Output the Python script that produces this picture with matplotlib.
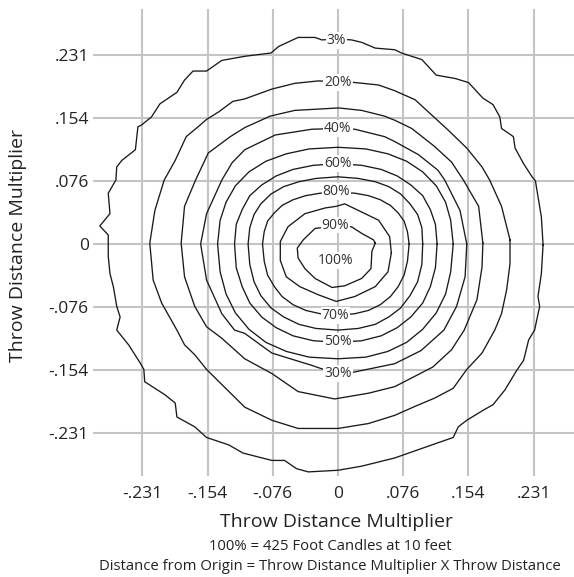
import numpy as np
import matplotlib.pyplot as plt

plt.rcParams['font.family'] = ['Open Sans', 'DejaVu Sans']

# grid ticks sit at multiples of 1/13 of the throw distance
tick_values = np.array([-3, -2, -1, 0, 1, 2, 3]) / 13
tick_labels = ['-.231', '-.154', '-.076', '0', '.076', '.154', '.231']

# iso-illuminance rings, outermost (3%) to innermost
ring1_x = [0.242, 0.240, 0.236, 0.233, 0.229, 0.219, 0.209, 0.207, 0.193, 0.191, 0.183, 0.171, 0.154, 0.138,
           0.116, 0.099, 0.075, 0.067, 0.044, 0.028, 0.016, 0.000, -0.019, -0.027, -0.047, -0.070, -0.079,
           -0.110, -0.137, -0.155, -0.171, -0.181, -0.190, -0.210, -0.220, -0.232, -0.236, -0.239, -0.255,
           -0.261, -0.262, -0.271, -0.269, -0.281, -0.271, -0.271, -0.269, -0.265, -0.261, -0.257, -0.261,
           -0.247, -0.234, -0.229, -0.228, -0.204, -0.192, -0.190, -0.169, -0.155, -0.129, -0.112, -0.078,
           -0.063, -0.049, -0.035, 0.000, 0.028, 0.067, 0.111, 0.136, 0.142, 0.152, 0.171, 0.183, 0.197,
           0.211, 0.219, 0.225, 0.232, 0.238, 0.236, 0.240]
ring1_y = [-0.001, 0.033, 0.058, 0.077, 0.082, 0.098, 0.117, 0.131, 0.141, 0.155, 0.170, 0.178, 0.197, 0.202,
           0.206, 0.225, 0.233, 0.237, 0.239, 0.246, 0.249, 0.250, 0.249, 0.252, 0.252, 0.241, 0.233,
           0.229, 0.224, 0.211, 0.211, 0.200, 0.185, 0.171, 0.155, 0.145, 0.143, 0.115, 0.102,
           0.094, 0.078, 0.062, 0.037, 0.022, 0.011, -0.015, -0.036, -0.052, -0.076, -0.089, -0.105,
           -0.123, -0.144, -0.153, -0.168, -0.184, -0.194, -0.211, -0.223, -0.236, -0.245, -0.255, -0.264,
           -0.264, -0.274, -0.278, -0.276, -0.271, -0.261, -0.245, -0.236, -0.223, -0.215, -0.203, -0.196,
           -0.178, -0.154, -0.142, -0.117, -0.105, -0.076, -0.064, -0.036]

ring2_x = [0.203, 0.193, 0.179, 0.170, 0.152, 0.130, 0.111, 0.091, 0.067, 0.048, 0.020, 0.000, -0.023, -0.051,
           -0.078, -0.110, -0.124, -0.141, -0.155, -0.165, -0.179, -0.192, -0.205, -0.216, -0.222, -0.218,
           -0.208, -0.190, -0.181, -0.169, -0.155, -0.110, -0.078, -0.047, 0.000, 0.036, 0.067, 0.091,
           0.114, 0.136, 0.152, 0.170, 0.185, 0.193, 0.199, 0.203]
ring2_y = [0.005, 0.046, 0.078, 0.094, 0.117, 0.139, 0.157, 0.176, 0.187, 0.194, 0.197, 0.198, 0.199, 0.196,
           0.189, 0.177, 0.174, 0.161, 0.152, 0.143, 0.131, 0.102, 0.078, 0.041, 0.001, -0.044,
           -0.072, -0.105, -0.123, -0.135, -0.153, -0.199, -0.215, -0.225, -0.225, -0.219, -0.209, -0.198,
           -0.188, -0.176, -0.153, -0.133, -0.105, -0.085, -0.056, -0.024]

ring3_x = [0.171, 0.166, 0.148, 0.134, 0.114, 0.087, 0.067, 0.055, 0.028, 0.001, -0.051, -0.080, -0.110,
           -0.127, -0.153, -0.168, -0.181, -0.185, -0.181, -0.169, -0.155, -0.137, -0.110, -0.078, -0.047,
           -0.004, 0.036, 0.067, 0.112, 0.134, 0.149, 0.164, 0.170]
ring3_y = [0.001, 0.046, 0.078, 0.100, 0.119, 0.141, 0.151, 0.156, 0.163, 0.166, 0.163, 0.156, 0.142,
           0.131, 0.111, 0.078, 0.046, 0.001, -0.040, -0.076, -0.101, -0.115, -0.140, -0.158, -0.180,
           -0.189, -0.182, -0.174, -0.150, -0.129, -0.105, -0.068, -0.028]

ring4_x = [0.152, 0.144, 0.126, 0.118, 0.095, 0.067, 0.055, 0.020, 0.000, -0.031, -0.074, -0.110, -0.125,
           -0.137, -0.155, -0.162, -0.155, -0.137, -0.122, -0.110, -0.078, -0.031, 0.000, 0.020, 0.067,
           0.098, 0.125, 0.140, 0.150]
ring4_y = [0.000, 0.041, 0.078, 0.090, 0.109, 0.125, 0.131, 0.140, 0.141, 0.140, 0.133, 0.115, 0.099,
           0.078, 0.037, 0.000, -0.044, -0.085, -0.105, -0.109, -0.133, -0.148, -0.159, -0.156, -0.146,
           -0.130, -0.105, -0.076, -0.040]

ring5_x = [0.136, 0.133, 0.127, 0.116, 0.100, 0.081, 0.059, 0.033, 0.000, -0.034, -0.061, -0.085, -0.105,
           -0.121, -0.132, -0.139, -0.142, -0.139, -0.132, -0.121, -0.105, -0.085, -0.061, -0.034, 0.000,
           0.033, 0.059, 0.081, 0.100, 0.116, 0.127, 0.133]
ring5_y = [0.000, 0.029, 0.051, 0.071, 0.088, 0.101, 0.110, 0.116, 0.118, 0.116, 0.110, 0.101, 0.088,
           0.071, 0.051, 0.029, 0.000, -0.034, -0.061, -0.084, -0.104, -0.120, -0.131, -0.138, -0.140,
           -0.138, -0.131, -0.120, -0.104, -0.084, -0.061, -0.034]

ring6_x = [0.117, 0.115, 0.109, 0.100, 0.086, 0.070, 0.051, 0.028, 0.000, -0.029, -0.053, -0.073, -0.090,
           -0.104, -0.113, -0.120, -0.122, -0.120, -0.113, -0.104, -0.090, -0.073, -0.053, -0.029, 0.000,
           0.028, 0.051, 0.070, 0.086, 0.100, 0.109, 0.115]
ring6_y = [0.000, 0.024, 0.042, 0.059, 0.072, 0.083, 0.091, 0.096, 0.098, 0.096, 0.091, 0.083, 0.072,
           0.059, 0.042, 0.024, 0.000, -0.029, -0.052, -0.072, -0.089, -0.102, -0.112, -0.118, -0.120,
           -0.118, -0.112, -0.102, -0.089, -0.072, -0.052, -0.029]

ring7_x = [0.100, 0.099, 0.094, 0.085, 0.074, 0.060, 0.044, 0.024, 0.000, -0.026, -0.046, -0.064, -0.079,
           -0.091, -0.099, -0.104, -0.106, -0.104, -0.099, -0.091, -0.079, -0.064, -0.046, -0.026, 0.000,
           0.024, 0.044, 0.060, 0.074, 0.085, 0.094, 0.099]
ring7_y = [0.000, 0.020, 0.036, 0.049, 0.061, 0.070, 0.076, 0.080, 0.082, 0.080, 0.076, 0.070, 0.061,
           0.049, 0.036, 0.020, 0.000, -0.025, -0.046, -0.063, -0.078, -0.089, -0.098, -0.103, -0.105,
           -0.103, -0.098, -0.089, -0.078, -0.063, -0.046, -0.025]

ring8_x = [0.084, 0.082, 0.078, 0.071, 0.062, 0.050, 0.036, 0.020, 0.000, -0.021, -0.038, -0.053, -0.066,
           -0.075, -0.083, -0.087, -0.089, -0.087, -0.083, -0.075, -0.066, -0.053, -0.038, -0.021, 0.000,
           0.020, 0.036, 0.050, 0.062, 0.071, 0.078, 0.082]
ring8_y = [0.000, 0.015, 0.028, 0.038, 0.047, 0.054, 0.059, 0.062, 0.063, 0.062, 0.059, 0.054, 0.047,
           0.038, 0.028, 0.015, 0.000, -0.021, -0.038, -0.052, -0.064, -0.074, -0.081, -0.085, -0.087,
           -0.085, -0.081, -0.074, -0.064, -0.052, -0.038, -0.021]

ring9_x = [0.063, 0.061, 0.048, 0.024, 0.008, -0.002, -0.015, -0.039, -0.059, -0.068, -0.068, -0.061,
           -0.045, -0.023, -0.002, 0.020, 0.044, 0.059]
ring9_y = [-0.011, 0.009, 0.029, 0.041, 0.049, 0.046, 0.044, 0.037, 0.021, 0.003, -0.020, -0.040,
           -0.052, -0.062, -0.070, -0.064, -0.052, -0.034]

ring10_x = [0.044, 0.042, 0.028, 0.016, 0.000, -0.019, -0.027, -0.041, -0.048, -0.047, -0.039, -0.027,
            -0.007, 0.008, 0.028, 0.039, 0.040]
ring10_y = [0.001, 0.005, 0.013, 0.021, 0.023, 0.020, 0.019, 0.005, -0.005, -0.017, -0.030, -0.042,
            -0.053, -0.051, -0.042, -0.030, -0.009]

rings = [(ring1_x, ring1_y), (ring2_x, ring2_y), (ring3_x, ring3_y), (ring4_x, ring4_y),
         (ring5_x, ring5_y), (ring6_x, ring6_y), (ring7_x, ring7_y), (ring8_x, ring8_y),
         (ring9_x, ring9_y), (ring10_x, ring10_y)]

label_text = ['3%', '20%', '40%', '60%', '80%', '90%', '100%', '70%', '50%', '30%']
label_x = [-0.002, 0.000, 0.000, 0.000, -0.002, -0.003, -0.003, -0.003, 0.000, 0.000]
label_y = [0.248, 0.197, 0.141, 0.098, 0.064, 0.023, -0.020, -0.087, -0.119, -0.158]

fig = plt.figure(figsize=(5.74, 5.77), dpi=100)
ax = fig.add_axes([93 / 574, 1 - 476 / 577, 1 - 93 / 574, 467 / 577])

for rx, ry in rings:
    ax.plot(np.append(rx, rx[0]), np.append(ry, ry[0]), color='#1a1a1a', lw=0.95)

for t, x, y in zip(label_text, label_x, label_y):
    ax.text(x, y, t, ha='center', va='center', fontsize=10, color='#333333',
            bbox=dict(facecolor='white', edgecolor='none', pad=0.6))

ax.set_xlim(-0.289, 0.2785)
ax.set_ylim(-0.283, 0.2867)
ax.set_xticks(tick_values, tick_labels)
ax.set_yticks(tick_values, tick_labels)
ax.grid(color='#c4c4c4', lw=1.5)
ax.set_axisbelow(True)
for s in ax.spines.values():
    s.set_visible(False)
ax.tick_params(axis='x', length=0, labelsize=12.5, pad=7, labelcolor='#222222')
ax.tick_params(axis='y', length=0, labelsize=12.5, pad=3, labelcolor='#222222')

fig.text(336 / 574, 1 - 522 / 577, 'Throw Distance Multiplier', ha='center', va='center',
         fontsize=14, color='#222222')
fig.text(18 / 574, 1 - 245 / 577, 'Throw Distance Multiplier', ha='center', va='center',
         rotation=90, fontsize=14, color='#222222')
fig.text(330 / 574, 1 - 547 / 577, '100% = 425 Foot Candles at 10 feet', ha='center', va='center',
         fontsize=10.7, color='#222222')
fig.text(330 / 574, 1 - 567 / 577, 'Distance from Origin = Throw Distance Multiplier X Throw Distance',
         ha='center', va='center', fontsize=10.7, color='#222222')

fig.savefig('out.png', dpi=100)
